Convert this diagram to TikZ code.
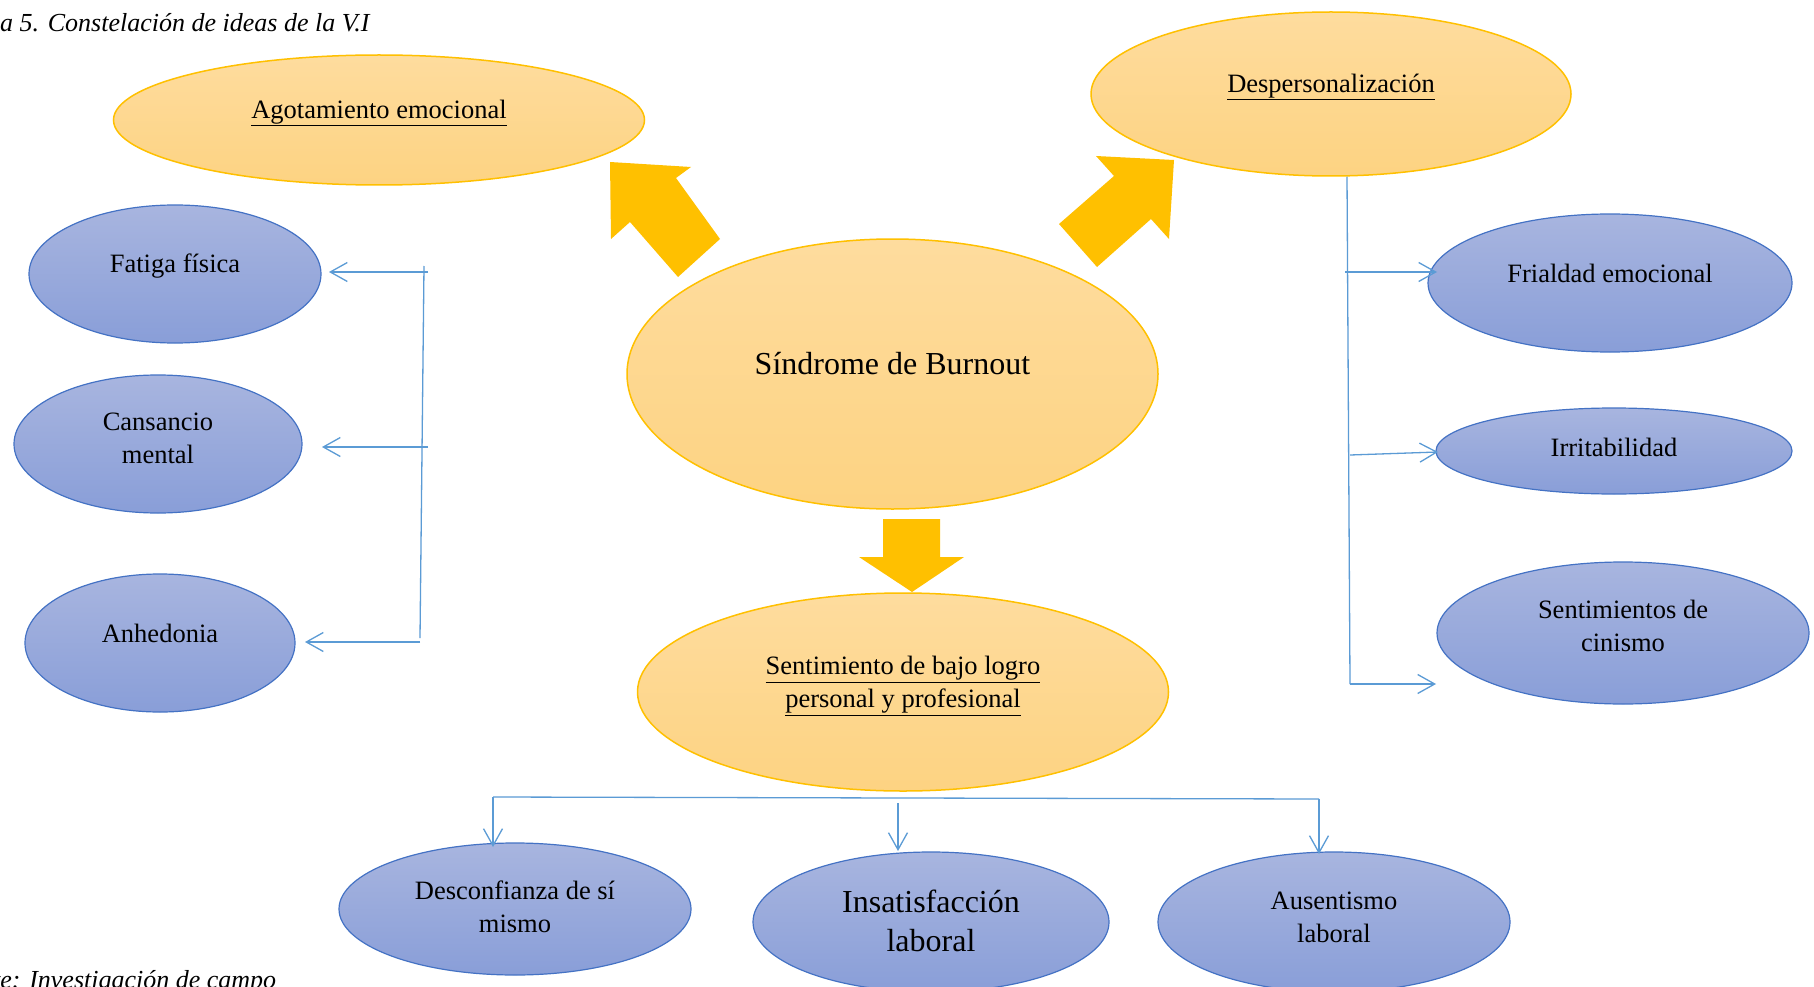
\documentclass[tikz,border=0pt]{standalone}
\usepackage{fontspec}
\setmainfont{Liberation Serif}
\usetikzlibrary{shapes.geometric,arrows.meta}
\definecolor{gold}{HTML}{FFC000}
\definecolor{goldtop}{HTML}{FEDC9E}
\definecolor{goldbot}{HTML}{FDD382}
\definecolor{bluetop}{HTML}{A8B5DF}
\definecolor{bluebot}{HTML}{899ED8}
\definecolor{blueedge}{HTML}{4472C4}
\definecolor{link}{HTML}{5B9BD5}
\tikzset{
  idea/.style={ellipse, draw=gold, line width=1.5pt, top color=goldtop, bottom color=goldbot, inner sep=0pt},
  trait/.style={ellipse, draw=blueedge, line width=1.2pt, top color=bluetop, bottom color=bluebot, inner sep=0pt},
  txt/.style={font=\fontsize{26.5}{33}\selectfont, align=center, inner sep=0pt},
  bigtxt/.style={font=\fontsize{32}{39}\selectfont, align=center, inner sep=0pt},
  captxt/.style={font=\fontsize{26}{30}\selectfont\itshape, anchor=base west, inner sep=0pt},
  conn/.style={draw=link, line width=1.3pt},
  connarrow/.style={conn, -{Straight Barb[length=17pt,width=19pt,line width=1.3pt]}},
  blockarrow/.style={fill=gold}
}
\begin{document}
\begin{tikzpicture}[x=1pt,y=-1pt]
\clip (0,0) rectangle (1814,987);
\fill[white] (0,0) rectangle (1814,987);

% captions
\node[captxt] (cap) at (0,32) {a 5. Constelación de ideas de la V.I};
\node[captxt] (src) at (-7,988) {te: Investigación de campo};

% main ideas
\node[idea, minimum width=531pt, minimum height=130pt] (agot) at (379,120) {};
\node[txt] (agot-t) at (379,113) {\underline{Agotamiento emocional}};
\node[idea, minimum width=480pt, minimum height=164pt] (desp) at (1331,94) {};
\node[txt] (desp-t) at (1331,87) {\underline{Despersonalización}};
\node[idea, minimum width=531pt, minimum height=270pt] (burn) at (892.5,374) {};
\node[bigtxt] (burn-t) at (892.5,364) {Síndrome de Burnout};
\node[idea, minimum width=531pt, minimum height=198pt] (logro) at (903,692) {};
\node[txt] (logro-t) at (903,686) {\underline{Sentimiento de bajo logro}\\\underline{personal y profesional}};

% traits
\node[trait, minimum width=292pt, minimum height=138pt] (fatiga) at (175,274) {};
\node[txt] (fatiga-t) at (175,266) {Fatiga física};
\node[trait, minimum width=288pt, minimum height=138pt] (cans) at (158,444) {};
\node[txt] (cans-t) at (158,438) {Cansancio\\mental};
\node[trait, minimum width=270pt, minimum height=138pt] (anhe) at (160,643) {};
\node[txt] (anhe-t) at (160,633) {Anhedonia};

\node[trait, minimum width=364pt, minimum height=138pt] (fria) at (1610,283) {};
\node[txt] (fria-t) at (1610,273) {Frialdad emocional};
\node[trait, minimum width=356pt, minimum height=86pt] (irri) at (1614,451) {};
\node[txt] (irri-t) at (1614,447) {Irritabilidad};
\node[trait, minimum width=372pt, minimum height=142pt] (cini) at (1623,633) {};
\node[txt] (cini-t) at (1623,626) {Sentimientos de\\cinismo};

\node[trait, minimum width=352pt, minimum height=132pt] (desc) at (515,909) {};
\node[txt] (desc-t) at (515,907) {Desconfianza de sí\\mismo};
\node[trait, minimum width=356pt, minimum height=140pt] (insa) at (931,922) {};
\node[bigtxt] (insa-t) at (931,921) {Insatisfacción\\laboral};
\node[trait, minimum width=352pt, minimum height=140pt] (ause) at (1334,922) {};
\node[txt] (ause-t) at (1334,917) {Ausentismo\\laboral};

% block arrows out of the centre
\fill[blockarrow] (610,162) -- (691,167) -- (676,178) -- (720,239) -- (678,277)
  -- (630,222) -- (611,239) -- cycle;
\fill[blockarrow] (1096,156) -- (1174,160) -- (1169,239) -- (1151,219) -- (1097,267)
  -- (1059,224) -- (1114,176) -- cycle;
\fill[blockarrow] (883,519) -- (940,519) -- (940,557) -- (964,557) -- (912,592)
  -- (859,557) -- (883,557) -- cycle;

% left bracket
\coordinate (lt) at (424,266);
\coordinate (lb) at (420,638);
\coordinate (l1) at (428,272);
\coordinate (l2) at (428,447);
\coordinate (l3) at (420,642);
\coordinate (l1e) at (329,272);
\coordinate (l2e) at (322,447);
\coordinate (l3e) at (305,642);
\draw[conn] (lt) -- (lb);
\draw[connarrow] (l1) -- (l1e);
\draw[connarrow] (l2) -- (l2e);
\draw[connarrow] (l3) -- (l3e);

% right bracket
\coordinate (rt) at (desp.south -| 1347,0);
\coordinate (rb) at (1350,684);
\coordinate (r1) at (1345,272);
\coordinate (r2) at (1350,455);
\coordinate (r3) at (1350,684);
\coordinate (r1e) at (1437,272);
\coordinate (r2e) at (1438,452);
\coordinate (r3e) at (1436,684);
\draw[conn] (rt) -- (rb);
\draw[connarrow] (r1) -- (r1e);
\draw[connarrow] (r2) -- (r2e);
\draw[connarrow] (r3) -- (r3e);

% bottom bracket
\coordinate (bl) at (493,797);
\coordinate (br) at (1319,799);
\coordinate (bm) at (898,803);
\coordinate (ble) at (493,847);
\coordinate (bme) at (898,851);
\coordinate (bre) at (1319,854);
\draw[conn] (bl) -- (br);
\draw[connarrow] (bl) -- (ble);
\draw[connarrow] (bm) -- (bme);
\draw[connarrow] (br) -- (bre);
\end{tikzpicture}
\end{document}
